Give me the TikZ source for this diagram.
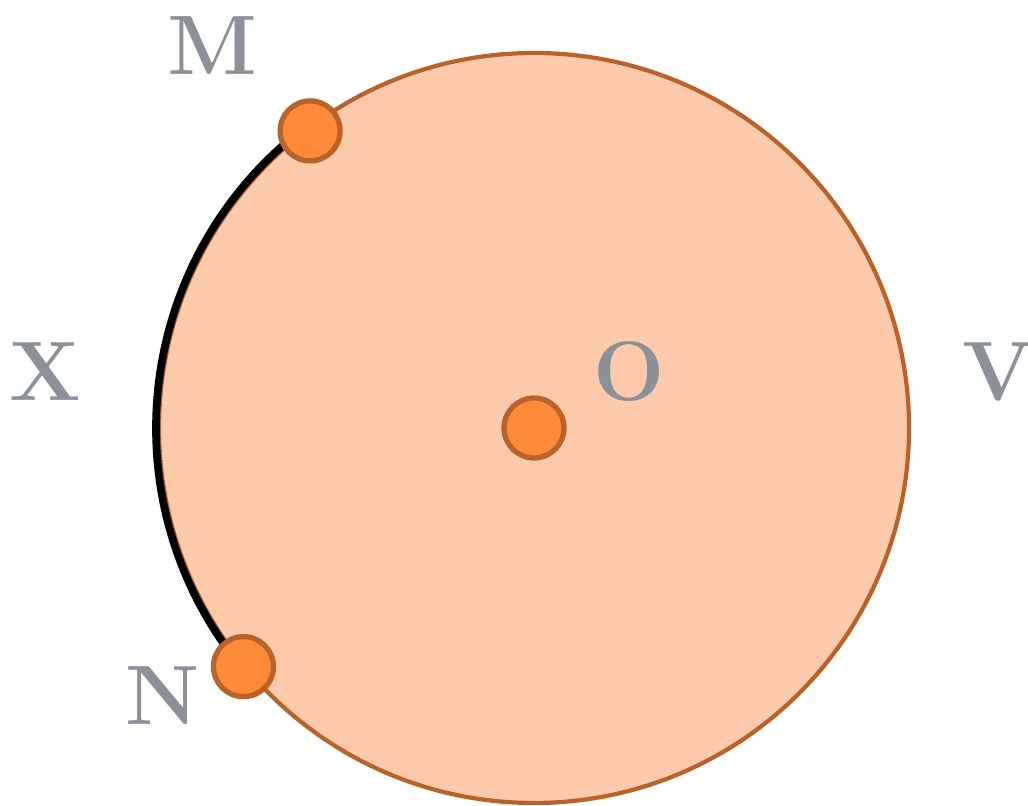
\documentclass[tikz,border=0pt]{standalone}
\usepackage{tikz}
\usetikzlibrary{positioning, calc}

\definecolor{discfill}{HTML}{FDCBAC}
\definecolor{discline}{HTML}{B9622A}
\definecolor{dotfill}{HTML}{FF8A38}
\definecolor{labelgray}{HTML}{8C9199}

\tikzset{
    dot/.style={circle, draw=discline, line width=1.5pt, fill=dotfill, minimum size=0.6cm, inner sep=0pt},
    ptlabel/.style={text=labelgray, font=\fontsize{24}{29}\selectfont\bfseries, inner sep=0pt}
}

\begin{document}
\begin{tikzpicture}
    \useasboundingbox (0,0) rectangle (10.28,8.06);

    % Disc
    \coordinate (C) at (5.34,3.78);
    \draw[discline, line width=1.2pt, fill=discfill] (C) circle[radius=3.75];

    % Arc between M and N
    \draw[black, line width=2.2pt] ($(C)+(129.5:3.78)$) arc[start angle=129.5, end angle=216.5, radius=3.78];

    % Points
    \node[dot] (M) at ($(C)+(127:3.72)$) {};
    \node[dot] (N) at ($(C)+(219.4:3.76)$) {};
    \node[dot] (O) at (C) {};

    % Labels
    \node[ptlabel] (labM) at (2.12,7.60) {M};
    \node[ptlabel] (labX) at (0.45,4.34) {X};
    \node[ptlabel] (labO) at (6.29,4.34) {O};
    \node[ptlabel] (labV) at (9.98,4.34) {V};
    \node[ptlabel] (labN) at (1.63,1.10) {N};
\end{tikzpicture}
\end{document}
